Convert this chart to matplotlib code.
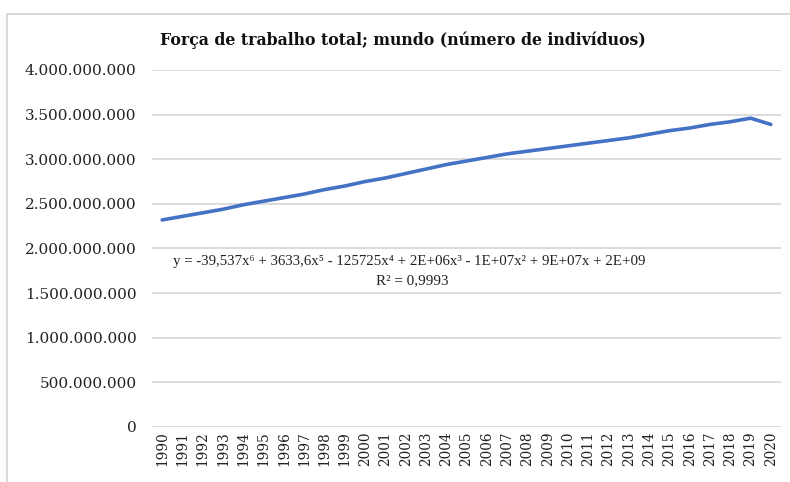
import matplotlib
matplotlib.use("Agg")
import matplotlib.pyplot as plt
from matplotlib.patches import Rectangle
import numpy as np

years = [str(y) for y in range(1990, 2021)]
labor_force = [2.32e9, 2.36e9, 2.40e9, 2.44e9, 2.49e9, 2.53e9, 2.57e9, 2.61e9,
               2.66e9, 2.70e9, 2.75e9, 2.79e9, 2.84e9, 2.89e9, 2.94e9, 2.98e9,
               3.02e9, 3.06e9, 3.09e9, 3.12e9, 3.15e9, 3.18e9, 3.21e9, 3.24e9,
               3.28e9, 3.32e9, 3.35e9, 3.39e9, 3.42e9, 3.46e9, 3.39e9]
yticks = [0, 5e8, 1e9, 1.5e9, 2e9, 2.5e9, 3e9, 3.5e9, 4e9]
ytick_labels = ["0", "500.000.000", "1.000.000.000", "1.500.000.000", "2.000.000.000",
                "2.500.000.000", "3.000.000.000", "3.500.000.000", "4.000.000.000"]
title = "Força de trabalho total; mundo (número de indivíduos)"
equation = "y = -39,537x⁶ + 3633,6x⁵ - 125725x⁴ + 2E+06x³ - 1E+07x² + 9E+07x + 2E+09"
r2 = "R² = 0,9993"

W, H = 790, 482
fig = plt.figure(figsize=(W / 100, H / 100), dpi=100)
fig.patch.set_facecolor("white")
plt.rcParams["font.family"] = ["DejaVu Serif"]

# outer chart border
fig.patches.append(Rectangle((7 / W, -0.2), 1.2, 1 - 14 / H + 0.2, transform=fig.transFigure,
                             fill=False, edgecolor="#d9d9d9", linewidth=1.5))

ax = fig.add_axes([152 / W, 1 - 427 / H, (781 - 152) / W, (427 - 70) / H])
x = np.arange(len(years))
ax.plot(x, labor_force, color="#4472C4", linewidth=2.6, solid_capstyle="round")
ax.set_xlim(-0.5, len(years) - 0.5)
ax.set_ylim(0, 4e9)
ax.set_yticks(yticks)
ax.set_yticklabels(ytick_labels, fontsize=11, color="#222222")
ax.set_xticks(x)
ax.set_xticklabels(years, rotation=90, fontsize=9.8, color="#222222")
ax.tick_params(axis="y", length=0, pad=11)
ax.tick_params(axis="x", length=0, pad=3)
ax.grid(axis="y", color="#d9d9d9", linewidth=1.3)
ax.set_axisbelow(True)
for s in ax.spines.values():
    s.set_visible(False)

fig.text(403 / W, 1 - 40 / H, title, ha="center", va="center", fontsize=11.3,
         fontweight="bold", color="#111111")
fig.text(409 / W, 1 - 261 / H, equation, ha="center", va="center", fontsize=10.7,
         family=["Liberation Serif", "DejaVu Serif"], color="#222222")
fig.text(412 / W, 1 - 281 / H, r2, ha="center", va="center", fontsize=10.9,
         family=["Liberation Serif", "DejaVu Serif"], color="#222222")

fig.savefig("out.png", dpi=100)
